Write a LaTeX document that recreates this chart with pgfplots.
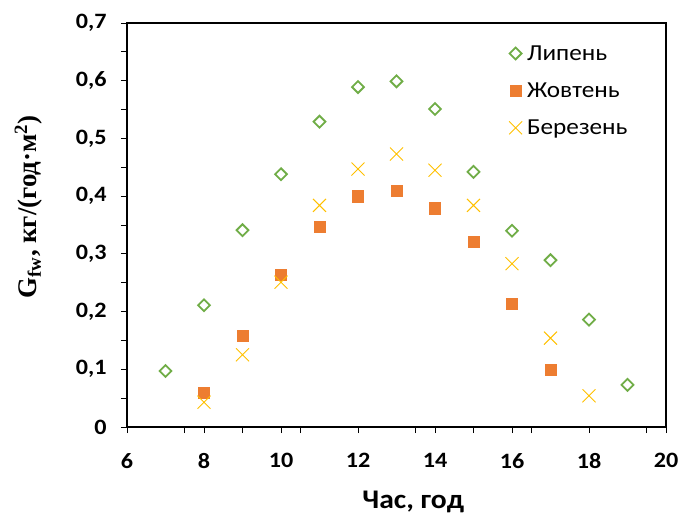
\documentclass[border=0pt]{standalone}
\usepackage{pgfplots}
\pgfplotsset{compat=1.18}
\usepackage{fontspec}
\setmainfont{Carlito}[FakeStretch=1.1]
\newfontfamily\tnr{Liberation Serif}
\definecolor{cgreen}{HTML}{70AD47}
\definecolor{corange}{HTML}{ED7D31}
\definecolor{cyellow}{HTML}{FFC000}
\begin{document}
\begin{tikzpicture}
\useasboundingbox (-127bp,-88bp) rectangle (554bp,427bp);
\begin{axis}[
  at={(0,0)}, anchor=south west,
  scale only axis, width=539bp, height=404bp,
  xmin=6, xmax=20, ymin=0, ymax=0.7,
  xtick={6,8,10,12,14,16,18,20},
  ytick={0,0.1,0.2,0.3,0.4,0.5,0.6,0.7},
  extra x ticks={7.5,9,10.5,13.5,15,16.5,19.5},
  extra x tick labels={},
  extra x tick style={grid=none},
  minor y tick num=1,
  tick pos=left, tick align=outside,
  major tick length=6bp, minor tick length=6bp,
  axis line style={line width=2.4bp},
  tick style={line width=0.9bp, black},
  /pgf/number format/assume math mode=true,
  /pgf/number format/use comma,
  /pgf/number format/fixed,
  /pgf/number format/precision=1,
  ticklabel style={font=\fontsize{22}{26}\selectfont\bfseries},
  xticklabel style={yshift=-17bp},
  yticklabel style={xshift=-11bp},
  xlabel={Час, год},
  xlabel style={font=\fontsize{27}{31}\selectfont\bfseries, at={(axis description cs:0.531,-0.186)}, anchor=center},
  ylabel={\tnr\bfseries G\textsubscript{fw}, кг/(год·м\textsuperscript{2})},
  ylabel style={font=\fontsize{27}{31}\selectfont, at={(axis description cs:-0.183,0.545)}, anchor=center},
  legend style={at={(axis description cs:0.703,0.955)}, anchor=north west, draw=none, fill=none,
    font=\fontsize{23}{27}\selectfont, row sep=17bp, legend cell align=left,
    nodes={inner xsep=5bp}},
]
\addplot[only marks, mark=square, mark size=4.2bp,
  mark options={rotate=45, draw=cgreen, line width=1.8bp, fill=white}]
  coordinates {(7,0.097) (8,0.211) (9,0.341) (10,0.438) (11,0.529) (12,0.589) (13,0.599)
               (14,0.551) (15,0.442) (16,0.340) (17,0.289) (18,0.186) (19,0.073)};
\addlegendentry{Липень}
\addplot[only marks, mark=square*, mark size=5.6bp,
  mark options={draw=corange, fill=corange, line width=0.4bp}]
  coordinates {(8,0.060) (9,0.158) (10,0.264) (11,0.347) (12,0.400) (13,0.410)
               (14,0.379) (15,0.321) (16,0.213) (17,0.099)};
\addlegendentry{Жовтень}
\addplot[only marks, mark=x, mark size=9.2bp,
  mark options={draw=cyellow, line width=0.9bp}]
  coordinates {(8,0.043) (9,0.125) (10,0.251) (11,0.384) (12,0.447) (13,0.473)
               (14,0.445) (15,0.384) (16,0.283) (17,0.154) (18,0.054)};
\addlegendentry{Березень}
\end{axis}
\end{tikzpicture}
\end{document}
